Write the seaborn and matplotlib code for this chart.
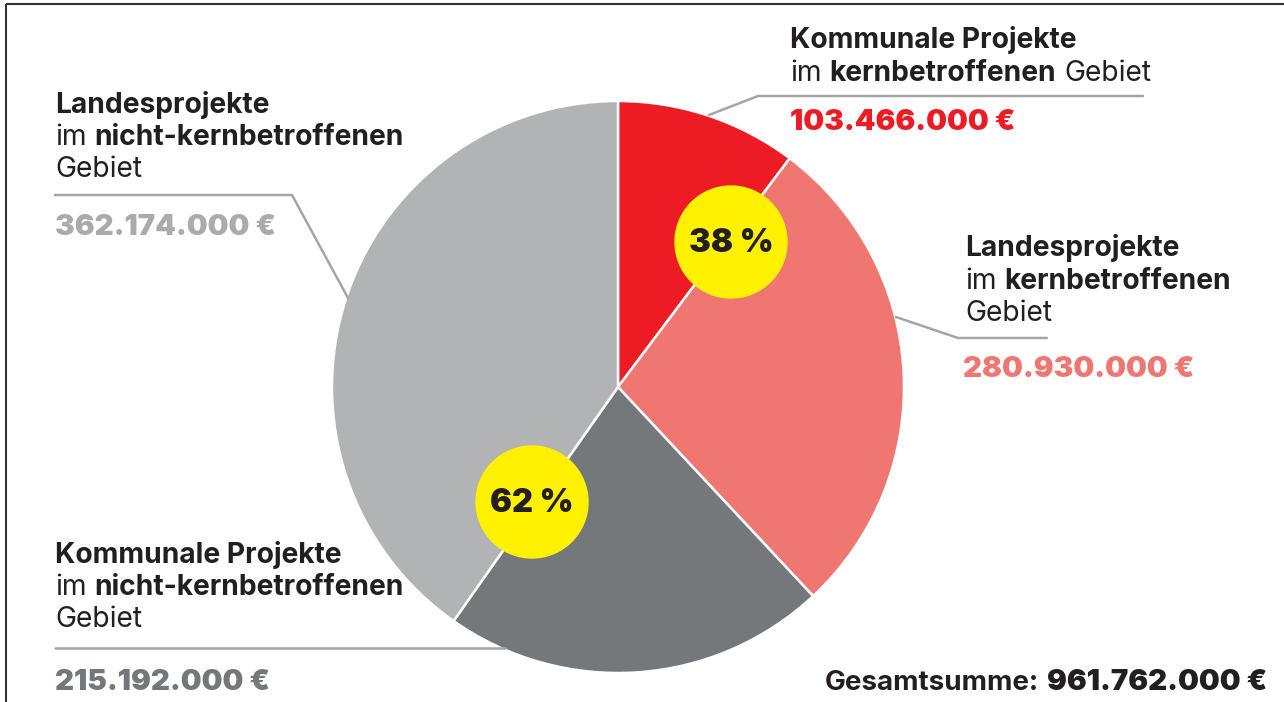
import matplotlib
matplotlib.use("Agg")
import matplotlib.pyplot as plt
from matplotlib.patches import Circle
import seaborn as sns

# Daten (im Uhrzeigersinn ab 12 Uhr)
kategorien = ["Kommunale Projekte im kernbetroffenen Gebiet",
              "Landesprojekte im kernbetroffenen Gebiet",
              "Kommunale Projekte im nicht-kernbetroffenen Gebiet",
              "Landesprojekte im nicht-kernbetroffenen Gebiet"]
betraege = [103466000, 280930000, 215192000, 362174000]
# Tortenstücke so wie im Original gezeichnet (Prozent)
anteile = [10.25, 27.8, 21.7, 40.25]
betrag_labels = ["103.466.000 €", "280.930.000 €", "215.192.000 €", "362.174.000 €"]
anteil_labels = ["38 %", "62 %"]
gesamt_label = "961.762.000 €"

farben = ["#ED1C24", "#F07672", "#75787B", "#B1B3B4"]
zahl_farben = ["#ED1C24", "#F07672", "#75787B", "#A9ABAD"]
linien_farbe = "#A3A5A7"
gelb = "#FFF100"
text_farbe = "#231F20"

sns.set_theme(style="white")
plt.rcParams["font.family"] = ["Inter", "DejaVu Sans"]

W, H = 1284, 702
fig = plt.figure(figsize=(W / 100, H / 100), dpi=100)
ax = fig.add_axes([0, 0, 1, 1])

def Y(y):
    # Bildkoordinate (oben = 0) -> Achsenkoordinate
    return H - y

ax.pie(anteile, colors=farben, startangle=90, counterclock=False,
       center=(618, Y(387)), radius=286,
       wedgeprops=dict(edgecolor="white", linewidth=1.8))
ax.set_xlim(0, W)
ax.set_ylim(0, H)
ax.set_aspect("equal")
ax.axis("off")

# Rahmen oben und links
ax.plot([6, W], [Y(4), Y(4)], color="#333333", lw=1.5, solid_capstyle="butt")
ax.plot([6, 6], [Y(4), 0], color="#333333", lw=1.5, solid_capstyle="butt")

# gelbe Kreise
for (cx, cy), txt in zip([(731, 242), (532, 502)], anteil_labels):
    ax.add_patch(Circle((cx, Y(cy)), 56, color=gelb, zorder=5))
    ax.text(cx, Y(cy) - 1, txt, ha="center", va="center", fontsize=23.5,
            fontweight="black", color=text_farbe, zorder=6)

renderer = fig.canvas.get_renderer()
FS = 20.3

def breite(s, weight):
    t = ax.text(0, 0, s, fontsize=FS, fontweight=weight)
    w = t.get_window_extent(renderer).width
    t.remove()
    return w

def zeile(x, y, teile):
    for s, weight in teile:
        if s == " ":
            x += breite("a a", "normal") - breite("aa", "normal")
            continue
        t = ax.text(x, Y(y), s, fontsize=FS, fontweight=weight,
                    color=text_farbe, ha="left", va="baseline")
        x += t.get_window_extent(renderer).width

def linie(punkte):
    xs = [p[0] for p in punkte]
    ys = [Y(p[1]) for p in punkte]
    ax.plot(xs, ys, color=linien_farbe, lw=1.8, solid_joinstyle="miter")

def betrag(x, y, i, ha="left"):
    ax.text(x, Y(y), betrag_labels[i], fontsize=21.2, fontweight="black",
            color=zahl_farben[i], ha=ha, va="baseline")

# Kommunale Projekte im kernbetroffenen Gebiet
zeile(790, 48, [("Kommunale Projekte", "bold")])
zeile(790, 81, [("im", "normal"), (" ", ""), ("kernbetroffenen", "bold"), (" ", ""), ("Gebiet", "normal")])
linie([(709, 115), (758, 96), (1143, 96)])
betrag(790, 130, 0)

# Landesprojekte im kernbetroffenen Gebiet
zeile(965, 256, [("Landesprojekte", "bold")])
zeile(965, 289, [("im", "normal"), (" ", ""), ("kernbetroffenen", "bold")])
zeile(965, 321, [("Gebiet", "normal")])
linie([(896, 317), (958, 338), (1047, 338)])
betrag(963, 377, 1)

# Kommunale Projekte im nicht-kernbetroffenen Gebiet
zeile(55, 563, [("Kommunale Projekte", "bold")])
zeile(55, 595, [("im", "normal"), (" ", ""), ("nicht-kernbetroffenen", "bold")])
zeile(55, 627, [("Gebiet", "normal")])
linie([(55, 648), (505, 648)])
betrag(55, 690, 2)

# Landesprojekte im nicht-kernbetroffenen Gebiet
zeile(55, 113, [("Landesprojekte", "bold")])
zeile(55, 145, [("im", "normal"), (" ", ""), ("nicht-kernbetroffenen", "bold")])
zeile(55, 177, [("Gebiet", "normal")])
linie([(55, 195), (292, 195), (348, 298)])
betrag(55, 235, 3)

# Gesamtsumme
t = ax.text(1267, Y(690), gesamt_label, fontsize=21.2, fontweight="black",
            color=text_farbe, ha="right", va="baseline")
w = t.get_window_extent(renderer).width
ax.text(1267 - w - 8, Y(690), "Gesamtsumme:", fontsize=20, fontweight="bold",
        color=text_farbe, ha="right", va="baseline")

fig.savefig("out.png", dpi=100)
